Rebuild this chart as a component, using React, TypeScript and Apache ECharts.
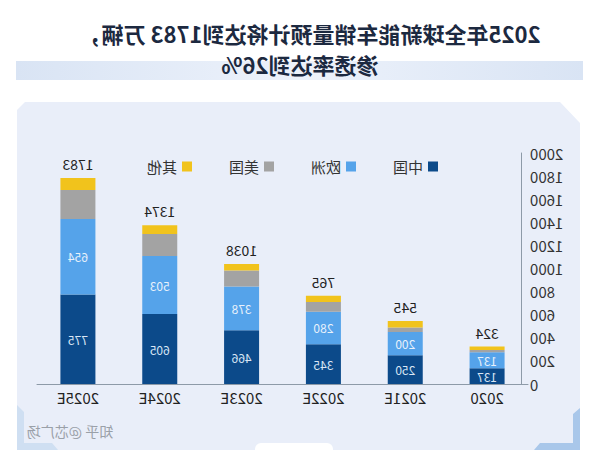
import React, { useEffect, useRef } from "react";
import * as echarts from "echarts";

const categories = ["2020", "2021E", "2022E", "2023E", "2024E", "2025E"];
const china = [137, 250, 345, 466, 605, 775];
const europe = [137, 200, 280, 378, 503, 654];
const usa = [20, 40, 85, 138, 190, 250];
const others = [30, 55, 55, 56, 76, 104];
const totals = [324, 545, 765, 1038, 1374, 1783];
const seriesNames = ["中国", "欧洲", "美国", "其他"];
const titleLine1 = "2025年全球新能车销量预计将达到1783 万辆，";
const titleLine2 = "渗透率达到26%";
const watermark = "知乎 @芯广场";

const FONT = "'Noto Sans CJK SC', 'Noto Sans', sans-serif";

export default function App() {
  const ref = useRef<HTMLDivElement>(null);
  useEffect(() => {
    if (!ref.current) return;
    const chart = echarts.init(ref.current, null, { renderer: "svg" });
    const innerLabel = (color: string) => ({
      show: true,
      position: "inside",
      color,
      fontSize: 12,
      fontFamily: FONT,
    });
    chart.setOption({
      animation: false,
      backgroundColor: "#ffffff",
      textStyle: { fontFamily: FONT },
      graphic: [
        {
          type: "rect",
          z: -10,
          shape: { x: 17, y: 61, width: 567, height: 19 },
          style: {
            fill: new echarts.graphic.LinearGradient(0, 0, 1, 0, [
              { offset: 0, color: "#d9e4f4" },
              { offset: 0.5, color: "#edf2fb" },
              { offset: 1, color: "#d9e4f4" },
            ]),
          },
        },
        {
          type: "polygon",
          z: -10,
          shape: {
            points: [
              [40, 102],
              [575, 102],
              [583, 110],
              [583, 450],
              [20, 450],
              [20, 123],
            ],
          },
          style: { fill: "#e9eef9" },
        },
        {
          type: "polygon",
          z: -9,
          shape: { points: [[20, 408], [27, 414], [27, 443], [60, 443], [66, 450], [20, 450]] },
          style: { fill: "#a9c7ea" },
        },
        {
          type: "polygon",
          z: -9,
          shape: { points: [[583, 405], [576, 412], [576, 443], [548, 443], [542, 450], [583, 450]] },
          style: { fill: "#cfdff2" },
        },
        {
          type: "rect",
          z: -8,
          shape: { x: 267, y: 443, width: 78, height: 13, r: [6, 6, 0, 0] },
          style: { fill: "#ffffff" },
        },
        {
          type: "text",
          x: 290,
          y: 33,
          style: {
            text: titleLine1,
            fontSize: 22,
            fontWeight: "bold",
            fill: "#1c2940",
            fontFamily: FONT,
            textAlign: "center",
            textVerticalAlign: "middle",
          },
        },
        {
          type: "text",
          x: 300,
          y: 64,
          style: {
            text: titleLine2,
            fontSize: 22,
            fontWeight: "bold",
            fill: "#1c2940",
            fontFamily: FONT,
            textAlign: "center",
            textVerticalAlign: "middle",
          },
        },
        {
          type: "text",
          x: 530,
          y: 431,
          style: {
            text: watermark,
            fontSize: 14,
            fill: "#9aa0a8",
            fontFamily: FONT,
            textAlign: "center",
            textVerticalAlign: "middle",
          },
        },
      ],
      legend: {
        data: seriesNames,
        left: 157,
        top: 154,
        itemWidth: 10,
        itemHeight: 10,
        itemGap: 37,
        icon: "rect",
        textStyle: { fontSize: 15, color: "#333333", fontFamily: FONT },
      },
      grid: { left: 72, right: 37, top: 153, bottom: 72, containLabel: false },
      xAxis: {
        type: "category",
        data: categories,
        axisLine: { lineStyle: { color: "#8d9aa8", width: 1 } },
        axisTick: { show: false },
        axisLabel: { fontSize: 15, color: "#222222", margin: 6, fontFamily: FONT },
      },
      yAxis: {
        type: "value",
        min: 0,
        max: 2000,
        interval: 200,
        offset: -6,
        axisLine: { show: true, lineStyle: { color: "#8d9aa8", width: 1 } },
        axisTick: { show: false },
        splitLine: { show: false },
        axisLabel: {
          fontSize: 15,
          color: "#333333",
          margin: 8,
          fontFamily: FONT,
          formatter: (v: number) => String(v),
        },
      },
      series: [
        {
          name: seriesNames[0],
          type: "bar",
          stack: "total",
          barWidth: 35,
          data: china,
          itemStyle: { color: "#0c4a8a" },
          label: innerLabel("#d9e6f5"),
        },
        {
          name: seriesNames[1],
          type: "bar",
          stack: "total",
          data: europe,
          itemStyle: { color: "#55a3ea" },
          label: innerLabel("#e8f1fb"),
        },
        {
          name: seriesNames[2],
          type: "bar",
          stack: "total",
          data: usa,
          itemStyle: { color: "#a3a3a3" },
        },
        {
          name: seriesNames[3],
          type: "bar",
          stack: "total",
          data: others,
          itemStyle: { color: "#f1c31c" },
          label: {
            show: true,
            position: "top",
            distance: 7,
            fontSize: 14,
            color: "#222222",
            fontFamily: FONT,
            formatter: (p: any) => String(totals[p.dataIndex]),
          },
        },
      ],
    });
    return () => chart.dispose();
  }, []);
  return (
    <div
      ref={ref}
      style={{
        position: "absolute",
        left: 0,
        top: 0,
        width: 600,
        height: 456,
        transform: "scaleX(-1)",
      }}
    />
  );
}
